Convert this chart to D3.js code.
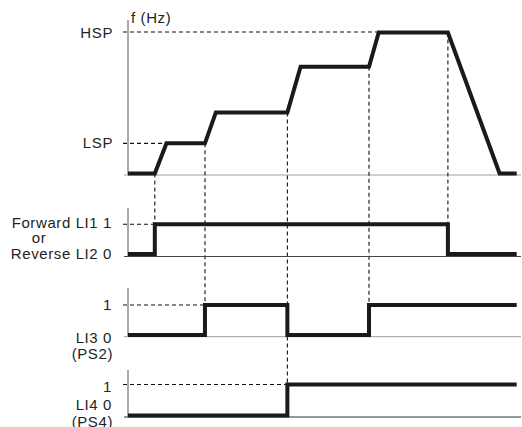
<!DOCTYPE html>
<html>
<head>
<meta charset="utf-8">
<script src="https://cdn.jsdelivr.net/npm/d3@7"></script>
<style>
  body { margin: 0; background: #fff; }
  text { font-family: "Liberation Sans", Arial, sans-serif; font-size: 15px; fill: #231f20; letter-spacing: 0.6px; }
</style>
</head>
<body>
<div id="chart"></div>
<script>
// time points of the speed profile (0..100 = full sequence)
const speedTime  = [0, 6.9, 9.9, 19.8, 22.6, 41.0, 44.4, 62.0, 64.5, 82.3, 95.6, 100]
// frequency in % of HSP
const speedValue = [0, 0, 21.4, 21.4, 43.3, 43.3, 75.7, 75.7, 100, 100, 0, 0]
const LSP = 21.4, HSP = 100

// logic inputs: switch times and states (state holds until next time)
const li1Time  = [0, 6.9, 82.3, 100]
const li1State = [0, 1, 0, 0]
const li3Time  = [0, 19.8, 41.0, 62.0, 100]
const li3State = [0, 1, 0, 1, 1]
const li4Time  = [0, 41.0, 100]
const li4State = [0, 1, 1]

const width = 522, height = 427

const svg = d3.select("#chart").append("svg")
    .attr("width", width)
    .attr("height", height)

const x = d3.scaleLinear().domain([0, 100]).range([128, 516.7])
const axisX = 128, axisEnd = 521

// vertical scales, one per panel
const yF  = d3.scaleLinear().domain([0, 100]).range([173.5, 32.5])
const y1  = d3.scaleLinear().domain([0, 1]).range([254, 224.3])
const y3  = d3.scaleLinear().domain([0, 1]).range([335, 305])
const y4  = d3.scaleLinear().domain([0, 1]).range([415.6, 384.5])

function dashH(y, x2){
    svg.append("line")
        .attr("x1", axisX - 5).attr("x2", x2)
        .attr("y1", y).attr("y2", y)
        .attr("stroke", "#111").attr("stroke-width", 1.1)
        .attr("stroke-dasharray", "4,3")
}
function dashV(xv, ya, yb){
    svg.append("line")
        .attr("x1", xv).attr("x2", xv)
        .attr("y1", ya).attr("y2", yb)
        .attr("stroke", "#111").attr("stroke-width", 1.1)
        .attr("stroke-dasharray", "4,3")
}
function axes(top, base, baseColor){
    svg.append("line")
        .attr("x1", axisX).attr("x2", axisX)
        .attr("y1", top).attr("y2", base)
        .attr("stroke", "#555").attr("stroke-width", 1)
    svg.append("line")
        .attr("x1", axisX - 4).attr("x2", axisEnd)
        .attr("y1", base).attr("y2", base)
        .attr("stroke", baseColor).attr("stroke-width", 1)
}
function label(txt, xv, yv, anchor){
    svg.append("text")
        .attr("x", xv).attr("y", yv)
        .attr("text-anchor", anchor || "end")
        .attr("dominant-baseline", "central")
        .text(txt)
}

// ---- top panel: frequency
axes(20, 175, "#a0a0a0")
dashH(yF(HSP) - 0.5, x(64.5))
dashH(yF(LSP), x(9.9))

// connecting dashed lines between panels
dashV(x(6.9), yF(0), y1(1))
dashV(x(19.8), yF(LSP), y3(1))
dashV(x(41.0), yF(43.3), y4(1))
dashV(x(62.0), yF(75.7), y3(1))
dashV(x(82.3), yF(HSP), y1(1))

const speedLine = d3.line()
    .x((d, i) => x(speedTime[i]))
    .y(d => yF(d))

svg.append("path")
    .attr("d", speedLine(speedValue))
    .attr("fill", "none")
    .attr("stroke", "#1a1a1a")
    .attr("stroke-width", 4)
    .attr("stroke-linejoin", "miter")

label("f (Hz)", 131, 17, "start")
label("HSP", 113, 32)
label("LSP", 113, 142)

// ---- logic panels
const stepLine = (times, ys) => d3.line()
    .x((d, i) => x(times[i]))
    .y(d => ys(d))
    .curve(d3.curveStepAfter)

function signal(times, states, ys){
    svg.append("path")
        .attr("d", stepLine(times, ys)(states))
        .attr("fill", "none")
        .attr("stroke", "#1a1a1a")
        .attr("stroke-width", 4)
        .attr("stroke-linejoin", "miter")
}

axes(208, 256.5, "#444")
dashH(y1(1), x(6.9))
signal(li1Time, li1State, y1)
label("Forward LI1 1", 112, 222.5)
label("or", 39, 237.5, "middle")
label("Reverse LI2 0", 112, 253)

axes(288, 336.7, "#9a9a9a")
dashH(y3(1), x(19.8))
signal(li3Time, li3State, y3)
label("1", 112, 304.5)
label("LI3 0", 112, 337.5)
label("(PS2)", 113, 353)

axes(370, 417, "#333")
dashH(y4(1), x(41.0))
signal(li4Time, li4State, y4)
label("1", 112, 386)
label("LI4 0", 112, 404.5)
label("(PS4)", 113, 421)
</script>
</body>
</html>
